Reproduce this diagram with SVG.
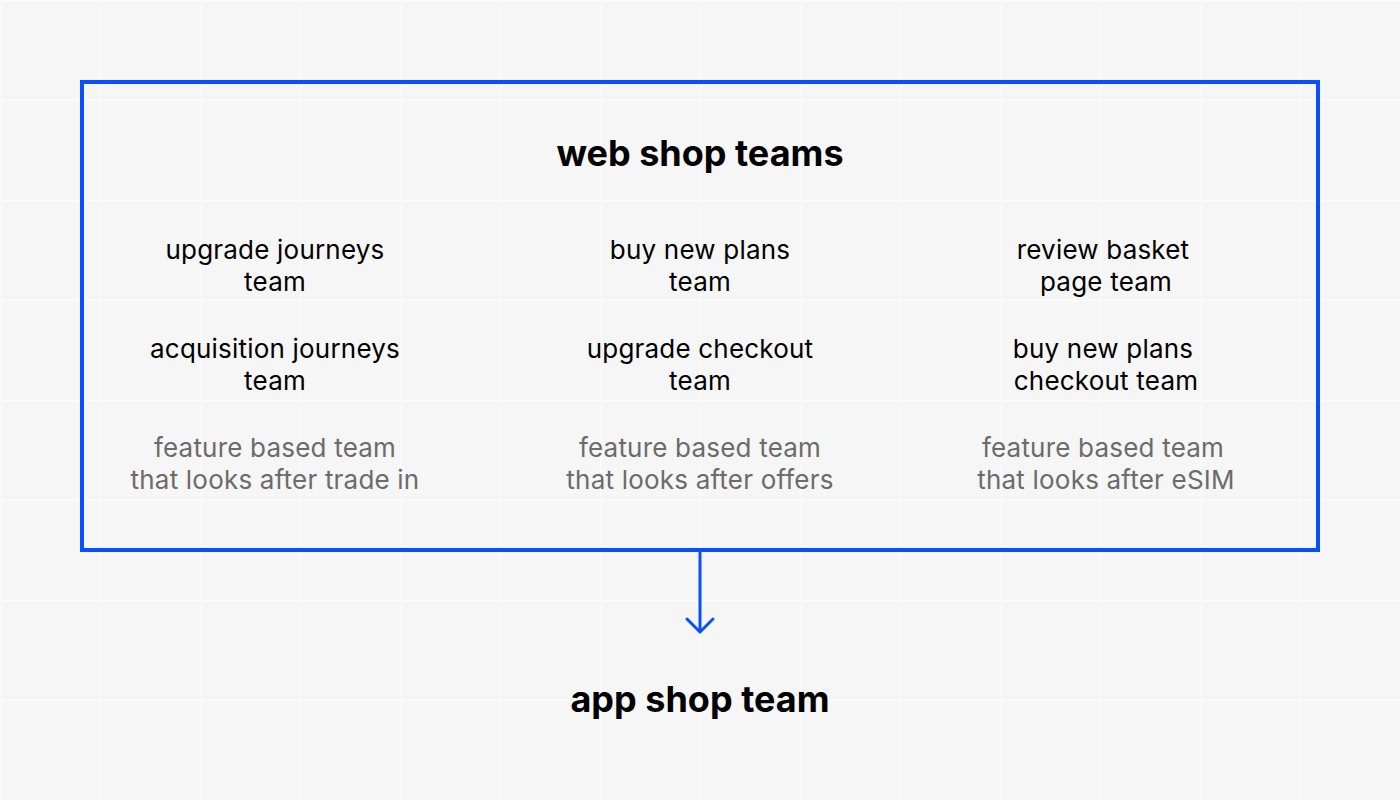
<svg xmlns="http://www.w3.org/2000/svg" width="1400" height="800" viewBox="0 0 1400 800">
<defs>
<pattern id="grid" width="100" height="100" patternUnits="userSpaceOnUse">
<rect width="100" height="100" fill="#f6f6f6"/>
<path d="M0 0.5H100M0.5 0V100" stroke="#fbfbfb" stroke-width="2" fill="none"/>
</pattern>
</defs>
<style>
.t{font-family:Inter,"Liberation Sans",sans-serif;font-size:26px;letter-spacing:0.2px;fill:#000;text-anchor:middle}
.g{fill:#6b6b6b}
.h{font-family:Inter,"Liberation Sans",sans-serif;font-size:36px;font-weight:700;fill:#000;text-anchor:middle}
.c{stroke:#0a4fff;fill:none}
</style>
<rect width="1400" height="800" fill="url(#grid)"/>
<g id="web-shop-teams">
<rect x="82" y="82" width="1236" height="468" class="c" stroke-width="4"/>
<text class="h" x="700" y="166">web shop teams</text>
</g>
<g id="col1">
<text class="t" x="275" y="259">upgrade journeys</text>
<text class="t" x="275" y="291">team</text>
<text class="t" x="275" y="358">acquisition journeys</text>
<text class="t" x="275" y="390">team</text>
<text class="t g" x="275" y="457">feature based team</text>
<text class="t g" x="275" y="489">that looks after trade in</text>
</g>
<g id="col2">
<text class="t" x="700" y="259">buy new plans</text>
<text class="t" x="700" y="291">team</text>
<text class="t" x="700" y="358">upgrade checkout</text>
<text class="t" x="700" y="390">team</text>
<text class="t g" x="700" y="457">feature based team</text>
<text class="t g" x="700" y="489">that looks after offers</text>
</g>
<g id="col3">
<text class="t" x="1103" y="259">review basket</text>
<text class="t" x="1106" y="291">page team</text>
<text class="t" x="1103" y="358">buy new plans</text>
<text class="t" x="1106" y="390">checkout team</text>
<text class="t g" x="1103" y="457">feature based team</text>
<text class="t g" x="1106" y="489">that looks after eSIM</text>
</g>
<g id="connectors">
<path class="c" d="M700 552V631" stroke-width="3"/>
<path class="c" d="M687 619L700 632L713 619" stroke-width="3" stroke-linecap="round" stroke-linejoin="round"/>
</g>
<g id="app-shop-team">
<text class="h" x="700" y="712">app shop team</text>
</g>
</svg>
